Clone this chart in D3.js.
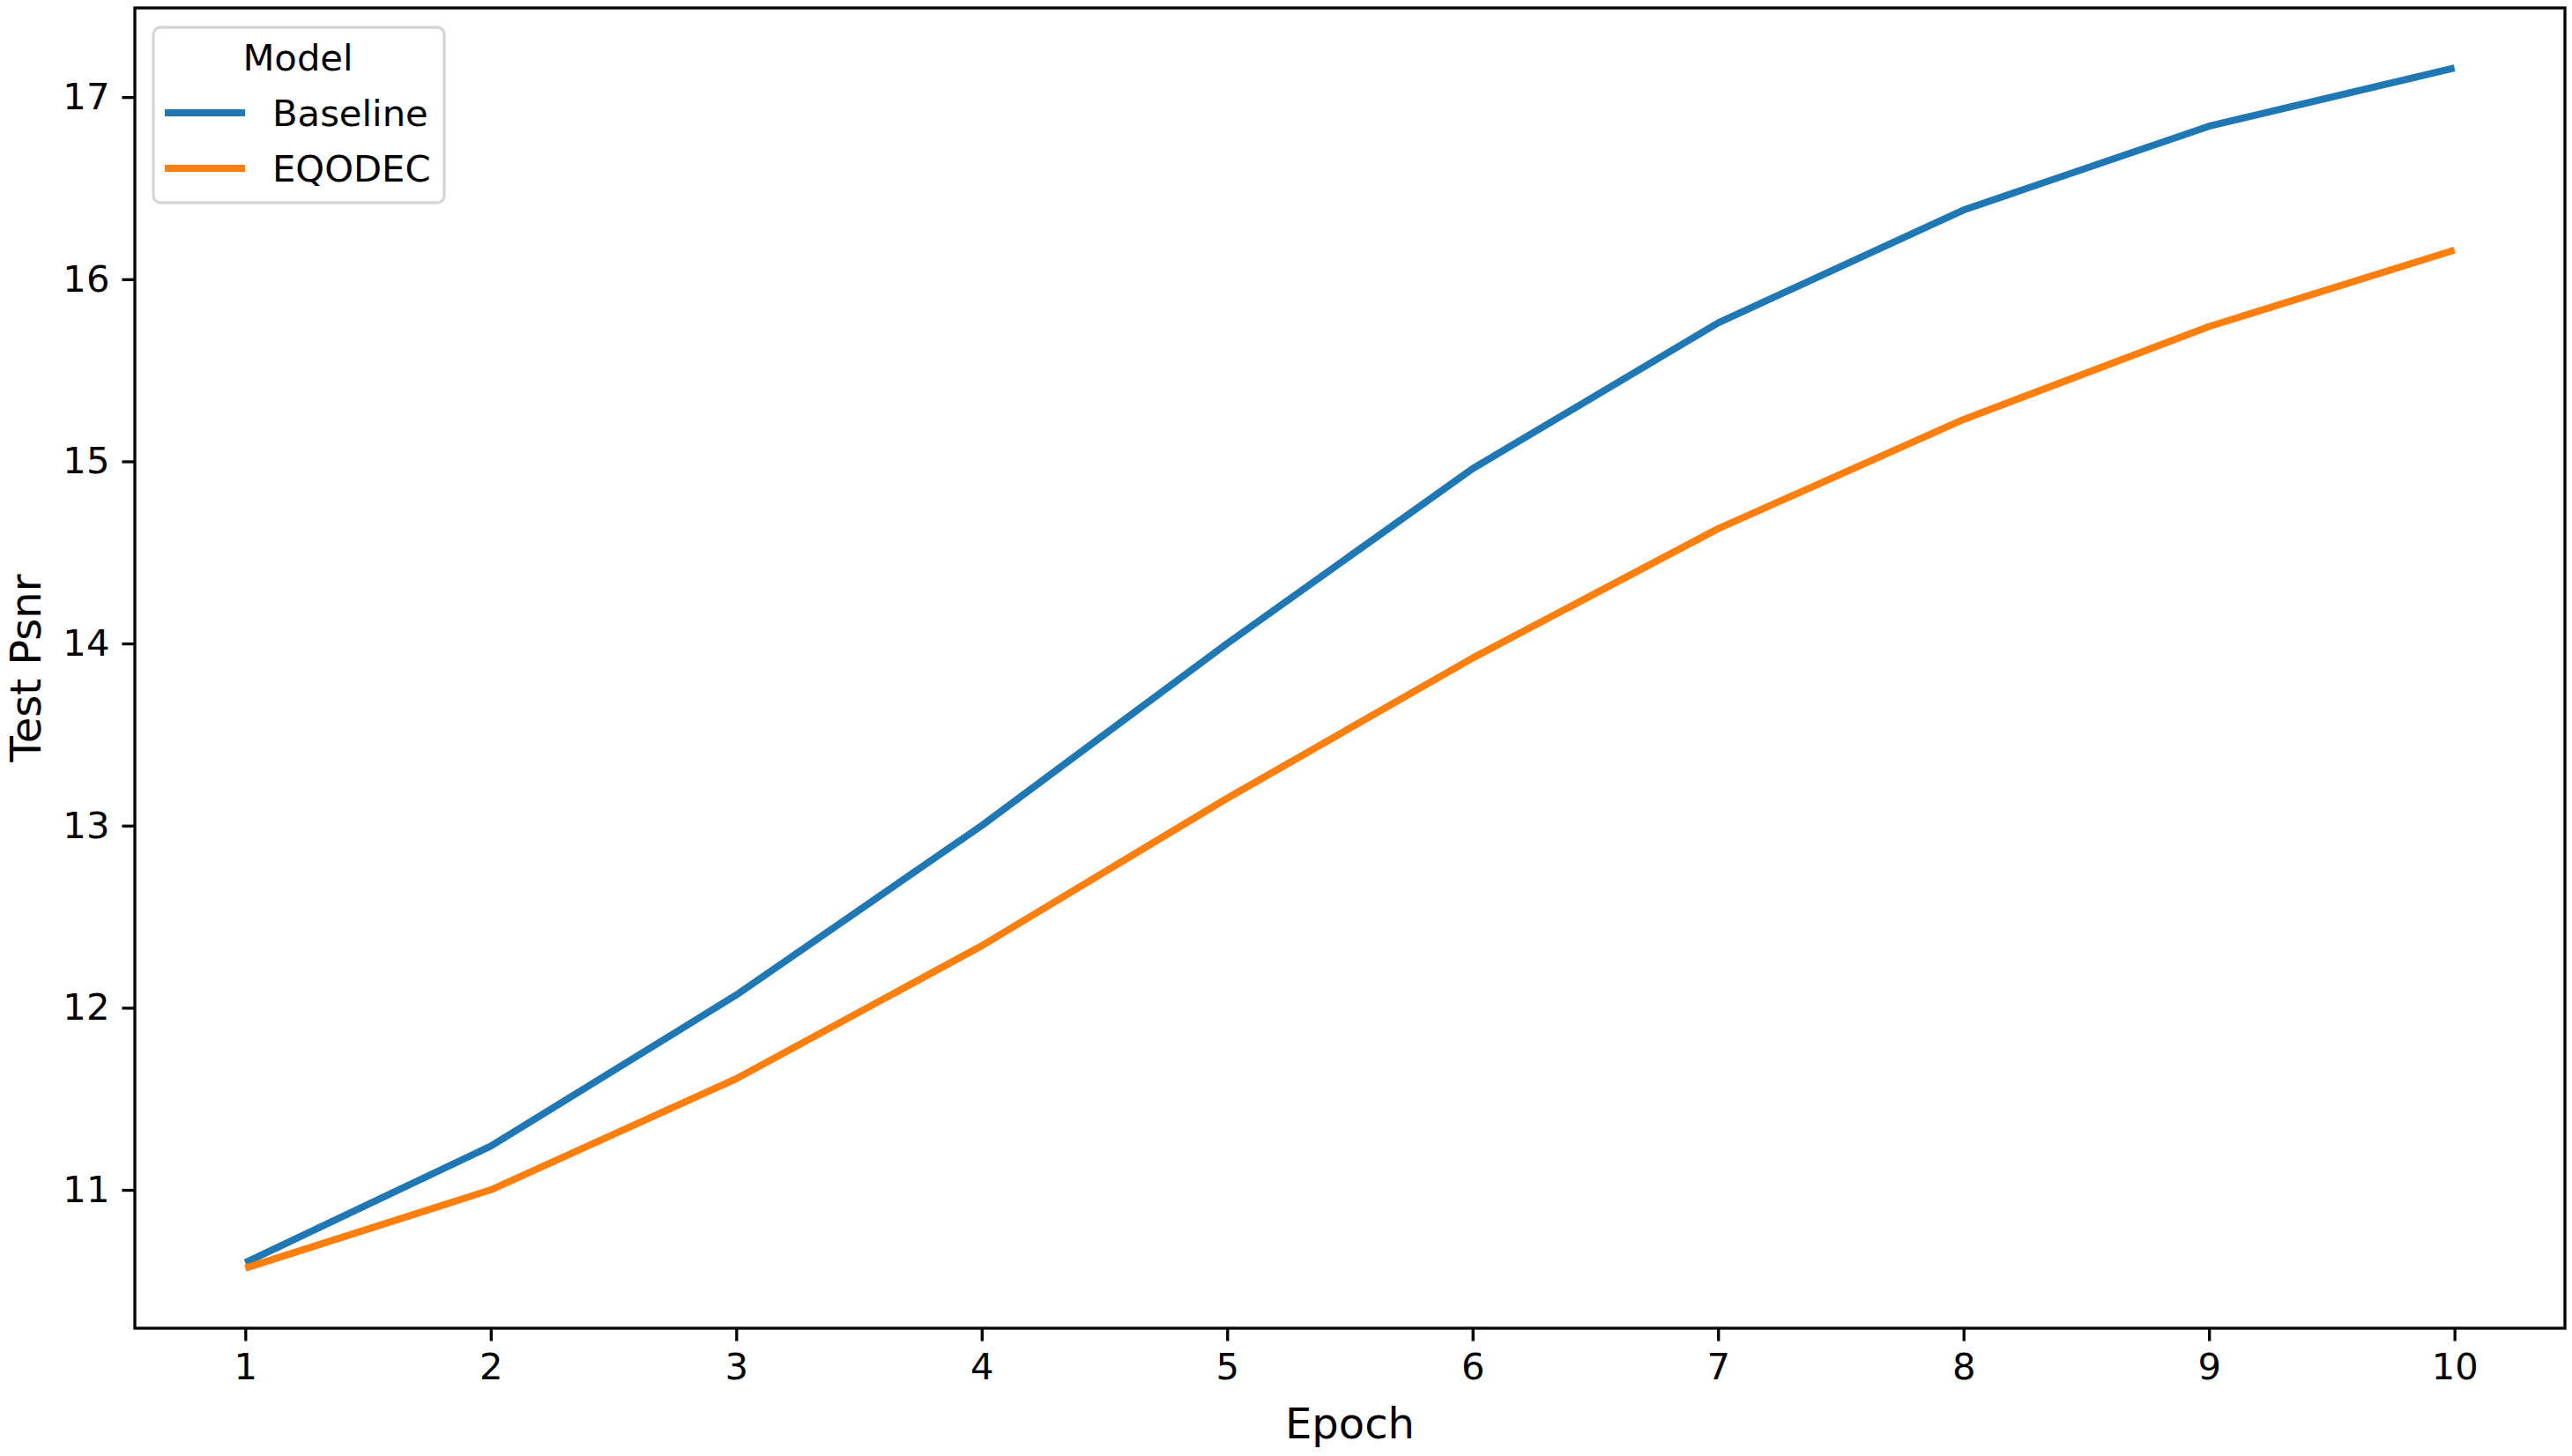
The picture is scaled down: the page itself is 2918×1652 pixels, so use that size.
<!DOCTYPE html>
<html>
<head>
<meta charset="utf-8">
<script src="https://cdn.jsdelivr.net/npm/d3@7"></script>
<style>
  html, body { margin: 0; padding: 0; background: #fff; }
  svg { display: block; }
  text { font-family: "DejaVu Sans", sans-serif; fill: #000; }
</style>
</head>
<body>
<script>
const epochs = [1, 2, 3, 4, 5, 6, 7, 8, 9, 10];
const baseline = [10.60, 11.24, 12.07, 13.00, 14.00, 14.96, 15.76, 16.38, 16.84, 17.16];
const eqodec = [10.57, 11.00, 11.61, 12.34, 13.15, 13.92, 14.63, 15.23, 15.74, 16.16];
const seriesNames = ["Baseline", "EQODEC"];
const seriesColors = ["#1f77b4", "#ff7f0e"];
const xTicks = [1, 2, 3, 4, 5, 6, 7, 8, 9, 10];
const yTicks = [11, 12, 13, 14, 15, 16, 17];
const xLabel = "Epoch";
const yLabel = "Test Psnr";
const legendTitle = "Model";

(function () {
const W = 2918, H = 1652;
const pLeft = 153, pRight = 2910, pTop = 9, pBottom = 1507;

const svg = d3.select("body").append("svg").attr("width", W).attr("height", H);

const x = d3.scaleLinear().domain([0.55, 10.45]).range([pLeft, pRight]);
const allVals = baseline.concat(eqodec);
const yMin = d3.min(allVals), yMax = d3.max(allVals);
const pad = (yMax - yMin) * 0.05;
const y = d3.scaleLinear().domain([yMin - pad, yMax + pad]).range([pBottom, pTop]);

const fs = 41.7;
const tickLen = 14.6, tickW = 3.3;

// X axis
const xAxis = svg.append("g").attr("transform", `translate(0,${pBottom})`)
  .call(d3.axisBottom(x).tickValues(xTicks).tickFormat(d3.format("d")).tickSizeOuter(0).tickSize(tickLen).tickPadding(14));
xAxis.select(".domain").remove();
xAxis.selectAll(".tick line").attr("stroke", "#000").attr("stroke-width", tickW);
xAxis.selectAll(".tick text").attr("font-size", fs).attr("font-family", "DejaVu Sans").attr("fill", "#000");

// Y axis
const yAxis = svg.append("g").attr("transform", `translate(${pLeft},0)`)
  .call(d3.axisLeft(y).tickValues(yTicks).tickFormat(d3.format("d")).tickSizeOuter(0).tickSize(tickLen).tickPadding(14));
yAxis.select(".domain").remove();
yAxis.selectAll(".tick line").attr("stroke", "#000").attr("stroke-width", tickW);
yAxis.selectAll(".tick text").attr("font-size", fs).attr("font-family", "DejaVu Sans").attr("fill", "#000");

// Lines
const line = d3.line().x((d, i) => x(epochs[i])).y(d => y(d));
[baseline, eqodec].forEach((s, k) => {
  svg.append("path").datum(s)
    .attr("d", line)
    .attr("fill", "none")
    .attr("stroke", seriesColors[k])
    .attr("stroke-width", 8)
    .attr("stroke-linejoin", "round")
    .attr("stroke-linecap", "butt");
});

// Spines
svg.append("rect")
  .attr("x", pLeft).attr("y", pTop)
  .attr("width", pRight - pLeft).attr("height", pBottom - pTop)
  .attr("fill", "none").attr("stroke", "#000").attr("stroke-width", tickW);

// Axis labels
svg.append("text")
  .attr("x", (pLeft + pRight) / 2).attr("y", 1632)
  .attr("text-anchor", "middle").attr("font-size", 48)
  .text(xLabel);
svg.append("text")
  .attr("transform", `translate(46,${(pTop + pBottom) / 2}) rotate(-90)`)
  .attr("text-anchor", "middle").attr("font-size", 48)
  .text(yLabel);

// Legend
const lg = svg.append("g");
lg.append("rect")
  .attr("x", 174).attr("y", 31).attr("width", 330).attr("height", 199)
  .attr("rx", 8).attr("ry", 8)
  .attr("fill", "#fff").attr("fill-opacity", 0.8)
  .attr("stroke", "#d6d6d6").attr("stroke-width", 3.3);
lg.append("text")
  .attr("x", 338).attr("y", 80)
  .attr("text-anchor", "middle").attr("font-size", fs)
  .text(legendTitle);
seriesNames.forEach((name, k) => {
  const ly = 128 + k * 63;
  lg.append("line")
    .attr("x1", 187).attr("x2", 278)
    .attr("y1", ly).attr("y2", ly)
    .attr("stroke", seriesColors[k]).attr("stroke-width", 8);
  lg.append("text")
    .attr("x", 309).attr("y", ly + 15)
    .attr("font-size", fs)
    .text(name);
});
})();
</script>
</body>
</html>
